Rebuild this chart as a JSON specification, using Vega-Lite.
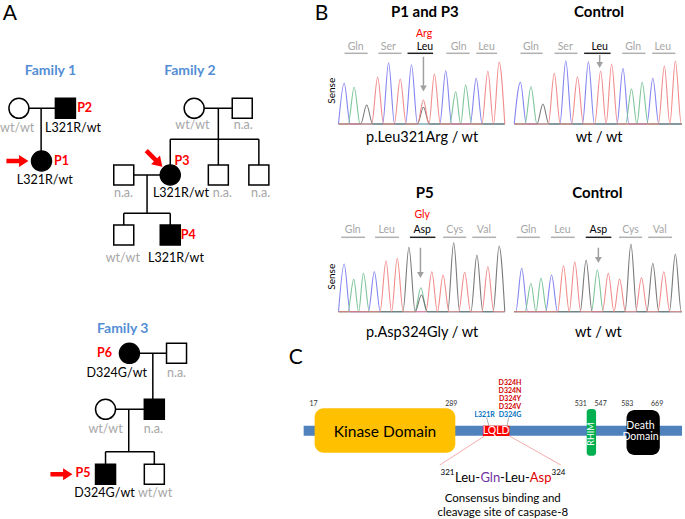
{
"$schema":"https://vega.github.io/schema/vega-lite/v6.json",
"width":685,"height":519,"padding":0,
"autosize":{"type":"fit","contains":"padding"},
"background":"white",
"config":{"font":"Lato","view":{"stroke":null},"text":{"font":"Lato"}},
"datasets":{
"texts":[
{"t":"A","x":10,"y":13.5,"r":"panel"},{"t":"B","x":323,"y":13.5,"r":"panel"},{"t":"C","x":297,"y":357.5,"r":"panel"},
{"t":"Family 1","x":50.7,"y":71,"r":"family"},{"t":"Family 2","x":190.7,"y":71,"r":"family"},{"t":"Family 3","x":123.3,"y":329.3,"r":"family"},
{"t":"P2","x":85,"y":108.3,"r":"pid"},{"t":"P1","x":61.7,"y":161,"r":"pid"},{"t":"P3","x":182.7,"y":161,"r":"pid"},{"t":"P4","x":189,"y":235,"r":"pid"},{"t":"P6","x":105,"y":353.3,"r":"pid"},{"t":"P5","x":83.3,"y":473.3,"r":"pid"},
{"t":"wt/wt","x":17.3,"y":127.7,"r":"geno","g":"wt"},{"t":"L321R/wt","x":73.3,"y":127.7,"r":"geno","g":"carrier"},{"t":"L321R/wt","x":45,"y":180,"r":"geno","g":"carrier"},
{"t":"wt/wt","x":193.3,"y":125,"r":"geno","g":"wt"},{"t":"n.a.","x":244.3,"y":125,"r":"geno","g":"na"},{"t":"n.a.","x":124,"y":192.7,"r":"geno","g":"na"},{"t":"L321R/wt","x":181.7,"y":192.7,"r":"geno","g":"carrier"},{"t":"n.a.","x":223.3,"y":192.7,"r":"geno","g":"na"},{"t":"n.a.","x":261.7,"y":192.7,"r":"geno","g":"na"},{"t":"wt/wt","x":123.3,"y":257.7,"r":"geno","g":"wt"},{"t":"L321R/wt","x":176.7,"y":257.7,"r":"geno","g":"carrier"},
{"t":"D324G/wt","x":117.3,"y":372.7,"r":"geno","g":"carrier"},{"t":"n.a.","x":177.3,"y":372.7,"r":"geno","g":"na"},{"t":"wt/wt","x":106,"y":429,"r":"geno","g":"wt"},{"t":"n.a.","x":154,"y":429,"r":"geno","g":"na"},{"t":"D324G/wt","x":105,"y":493.3,"r":"geno","g":"carrier"},{"t":"wt/wt","x":155.7,"y":493.3,"r":"geno","g":"wt"},
{"t":"P1 and P3","x":426.7,"y":11.7,"r":"title"},{"t":"Control","x":601.7,"y":11.7,"r":"title"},{"t":"P5","x":426.7,"y":193.3,"r":"title"},{"t":"Control","x":600,"y":193.3,"r":"title"},
{"t":"Gln","x":357.3,"y":46.7,"r":"aa","g":"ref"},{"t":"Ser","x":390,"y":46.7,"r":"aa","g":"ref"},{"t":"Leu","x":426.7,"y":46.7,"r":"aa","g":"target"},{"t":"Gln","x":460.7,"y":46.7,"r":"aa","g":"ref"},{"t":"Leu","x":488.7,"y":46.7,"r":"aa","g":"ref"},{"t":"Arg","x":426,"y":34.3,"r":"aa","g":"variant"},
{"t":"Gln","x":533.3,"y":46.7,"r":"aa","g":"ref"},{"t":"Ser","x":567.7,"y":46.7,"r":"aa","g":"ref"},{"t":"Leu","x":602.3,"y":46.7,"r":"aa","g":"target"},{"t":"Gln","x":636,"y":46.7,"r":"aa","g":"ref"},{"t":"Leu","x":665.7,"y":46.7,"r":"aa","g":"ref"},
{"t":"Gln","x":354.3,"y":230,"r":"aa","g":"ref"},{"t":"Leu","x":388.3,"y":230,"r":"aa","g":"ref"},{"t":"Asp","x":424,"y":230,"r":"aa","g":"target"},{"t":"Cys","x":456.7,"y":230,"r":"aa","g":"ref"},{"t":"Val","x":486,"y":230,"r":"aa","g":"ref"},{"t":"Gly","x":424,"y":215,"r":"aa","g":"variant"},
{"t":"Gln","x":530.7,"y":230,"r":"aa","g":"ref"},{"t":"Leu","x":565,"y":230,"r":"aa","g":"ref"},{"t":"Asp","x":601,"y":230,"r":"aa","g":"target"},{"t":"Cys","x":633.3,"y":230,"r":"aa","g":"ref"},{"t":"Val","x":662.7,"y":230,"r":"aa","g":"ref"},
{"t":"Sense","x":333.3,"y":90.7,"r":"sense"},{"t":"Sense","x":333.3,"y":276.7,"r":"sense"},
{"t":"p.Leu321Arg / wt","x":424,"y":137.7,"r":"caption"},{"t":"wt / wt","x":601.7,"y":137.7,"r":"caption"},{"t":"p.Asp324Gly / wt","x":424,"y":333,"r":"caption"},{"t":"wt / wt","x":601,"y":333,"r":"caption"},
{"t":"Kinase Domain","x":386.7,"y":431.7,"r":"kinase"},
{"t":"17","x":315,"y":404,"r":"pos"},{"t":"289","x":453.3,"y":404,"r":"pos"},{"t":"531","x":583.3,"y":404,"r":"pos"},{"t":"547","x":603.3,"y":404,"r":"pos"},{"t":"583","x":630,"y":404,"r":"pos"},{"t":"669","x":660,"y":404,"r":"pos"},
{"t":"L321R","x":486.7,"y":415,"r":"mut","g":"patient"},{"t":"D324G","x":512.3,"y":415,"r":"mut","g":"patient"},{"t":"D324V","x":512.3,"y":407.3,"r":"mut","g":"reported"},{"t":"D324Y","x":512.3,"y":399,"r":"mut","g":"reported"},{"t":"D324N","x":512.3,"y":390.7,"r":"mut","g":"reported"},{"t":"D324H","x":512.3,"y":382.7,"r":"mut","g":"reported"},
{"t":"LQLD","x":498.3,"y":431,"r":"motif"},
{"t":"Death","x":643.3,"y":425.7,"r":"dd"},{"t":"Domain","x":643.3,"y":437.3,"r":"dd"},
{"t":"RHIM","x":594,"y":434,"r":"rhim"},
{"t":"Consensus binding and","x":505,"y":499.3,"r":"note"},{"t":"cleavage site of caspase-8","x":505,"y":512.7,"r":"note"},
{"t":"321","x":442.5,"y":475,"r":"sup"},{"t":"324","x":554,"y":475,"r":"sup"},
{"t":"Leu-","x":457,"y":481.5,"r":"seq","g":"plain"},{"t":"Gln","x":482.5,"y":481.5,"r":"seq","g":"gln"},{"t":"-Leu-","x":502.1,"y":481.5,"r":"seq","g":"plain"},{"t":"Asp","x":532.1,"y":481.5,"r":"seq","g":"asp"}
],
"rects":[
{"part":"backbone","x":305,"x2":685,"y":425.7,"y2":435.7},
{"part":"kinase","x":316,"x2":457.3,"y":408.3,"y2":452.7},
{"part":"death","x":629.3,"x2":662.7,"y":410,"y2":455},
{"part":"rhim","x":589.3,"x2":598.7,"y":409,"y2":455.7},
{"part":"lqld","x":485,"x2":511.7,"y":425.7,"y2":436}
],
"lines":[
{"k":"ped","x":19,"y":108.3,"x2":65.7,"y2":108.3},{"k":"ped","x":41.3,"y":108.3,"x2":41.3,"y2":161},
{"k":"ped","x":195,"y":108.3,"x2":243.3,"y2":108.3},{"k":"ped","x":219.3,"y":108.3,"x2":219.3,"y2":139.3},{"k":"ped","x":171,"y":139.3,"x2":260,"y2":139.3},{"k":"ped","x":171,"y":139.3,"x2":171,"y2":175},{"k":"ped","x":219.3,"y":139.3,"x2":219.3,"y2":175},{"k":"ped","x":260,"y":139.3,"x2":260,"y2":175},{"k":"ped","x":124.3,"y":175,"x2":171,"y2":175},{"k":"ped","x":147.7,"y":175,"x2":147.7,"y2":213.3},{"k":"ped","x":124.3,"y":213.3,"x2":171,"y2":213.3},{"k":"ped","x":124.3,"y":213.3,"x2":124.3,"y2":235},{"k":"ped","x":171,"y":213.3,"x2":171,"y2":235},
{"k":"ped","x":130,"y":353.3,"x2":177.3,"y2":353.3},{"k":"ped","x":153.5,"y":353.3,"x2":153.5,"y2":409.3},{"k":"ped","x":106,"y":409.3,"x2":155,"y2":409.3},{"k":"ped","x":129.3,"y":409.3,"x2":129.3,"y2":451.7},{"k":"ped","x":106,"y":451.7,"x2":155,"y2":451.7},{"k":"ped","x":106,"y":451.7,"x2":106,"y2":474.3},{"k":"ped","x":155,"y":451.7,"x2":155,"y2":474.3},
{"k":"ref","x":346,"x2":369.3,"y":53.3,"y2":53.3},{"k":"ref","x":380,"x2":403.3,"y":53.3,"y2":53.3},{"k":"tgt","x":409.3,"x2":435,"y":53.3,"y2":53.3},{"k":"ref","x":448.3,"x2":471.7,"y":53.3,"y2":53.3},{"k":"ref","x":478.3,"x2":499.3,"y":53.3,"y2":53.3},
{"k":"ref","x":522.7,"x2":545,"y":53.3,"y2":53.3},{"k":"ref","x":557,"x2":580,"y":53.3,"y2":53.3},{"k":"tgt","x":586.7,"x2":613.3,"y":53.3,"y2":53.3},{"k":"ref","x":625,"x2":648.3,"y":53.3,"y2":53.3},{"k":"ref","x":655,"x2":678.3,"y":53.3,"y2":53.3},
{"k":"ref","x":342.7,"x2":366.7,"y":237.3,"y2":237.3},{"k":"ref","x":376.7,"x2":400.7,"y":237.3,"y2":237.3},{"k":"tgt","x":411.7,"x2":437.3,"y":237.3,"y2":237.3},{"k":"ref","x":445,"x2":468.3,"y":237.3,"y2":237.3},{"k":"ref","x":474.3,"x2":498.3,"y":237.3,"y2":237.3},
{"k":"ref","x":519,"x2":542.3,"y":237.3,"y2":237.3},{"k":"ref","x":553.3,"x2":577.3,"y":237.3,"y2":237.3},{"k":"tgt","x":588.3,"x2":614,"y":237.3,"y2":237.3},{"k":"ref","x":621.7,"x2":645,"y":237.3,"y2":237.3},{"k":"ref","x":651,"x2":675,"y":237.3,"y2":237.3},
{"k":"zoom","x":486.7,"y":436,"x2":441.7,"y2":465},{"k":"zoom","x":511.7,"y":436,"x2":563.3,"y2":465},
{"k":"conn","x":488.7,"y":417.3,"x2":491,"y2":425.7},{"k":"conn","x":511,"y":417.3,"x2":509.3,"y2":425.7}
],
"pointers":[
{"x":425.3,"y":56.7,"y2":88.5},{"x":602.3,"y":55,"y2":65},{"x":422.3,"y":247.7,"y2":275},{"x":601,"y":247.7,"y2":260}
],
"nodes":[
{"x":19,"y":108.3,"sex":"F","aff":"no"},{"x":65.7,"y":108.3,"sex":"M","aff":"yes"},{"x":41.7,"y":161,"sex":"F","aff":"yes"},
{"x":195,"y":108.3,"sex":"F","aff":"no"},{"x":243.3,"y":108.3,"sex":"M","aff":"no"},{"x":171,"y":175,"sex":"F","aff":"yes"},{"x":219.3,"y":175,"sex":"M","aff":"no"},{"x":260,"y":175,"sex":"M","aff":"no"},{"x":124.3,"y":175,"sex":"M","aff":"no"},{"x":124.3,"y":235,"sex":"M","aff":"no"},{"x":171,"y":235,"sex":"M","aff":"yes"},
{"x":130,"y":353.3,"sex":"F","aff":"yes"},{"x":177.3,"y":353.3,"sex":"M","aff":"no"},{"x":106,"y":409.3,"sex":"F","aff":"no"},{"x":155,"y":409.3,"sex":"M","aff":"yes"},{"x":106,"y":474.3,"sex":"M","aff":"yes"},{"x":155,"y":474.3,"sex":"M","aff":"no"}
],
"probands":[
{"x":17.5,"y":161,"dir":"side"},{"x":61.7,"y":474.3,"dir":"side"},{"x":155,"y":158.7,"dir":"diag"}
],
"traces":[
{"p":"TL","b":"C","x":340,"y":124},{"p":"TL","b":"C","x":345.7,"y":83.3},{"p":"TL","b":"C","x":351.7,"y":124},{"p":"TL","b":"C","x":384.3,"y":124},{"p":"TL","b":"C","x":390.3,"y":62.7},{"p":"TL","b":"C","x":396.3,"y":124},{"p":"TL","b":"C","x":407.3,"y":124},{"p":"TL","b":"C","x":413.3,"y":64.7},{"p":"TL","b":"C","x":419.3,"y":124},{"p":"TL","b":"C","x":441.7,"y":124},{"p":"TL","b":"C","x":447.7,"y":70.7},{"p":"TL","b":"C","x":453.7,"y":124},{"p":"TL","b":"C","x":472.3,"y":124},{"p":"TL","b":"C","x":478.3,"y":78.3},{"p":"TL","b":"C","x":484.3,"y":124},{"p":"TL","b":"C","x":507,"y":124},
{"p":"TL","b":"A","x":340,"y":124},{"p":"TL","b":"A","x":349.7,"y":124},{"p":"TL","b":"A","x":355.7,"y":87.3},{"p":"TL","b":"A","x":361.7,"y":124},{"p":"TL","b":"A","x":451.7,"y":124},{"p":"TL","b":"A","x":457.7,"y":91.7},{"p":"TL","b":"A","x":462.7,"y":124},{"p":"TL","b":"A","x":467.7,"y":85},{"p":"TL","b":"A","x":473.7,"y":124},{"p":"TL","b":"A","x":507,"y":124},
{"p":"TL","b":"G","x":340,"y":124},{"p":"TL","b":"G","x":362.3,"y":124},{"p":"TL","b":"G","x":368.3,"y":105},{"p":"TL","b":"G","x":374.3,"y":124},{"p":"TL","b":"G","x":419.3,"y":124},{"p":"TL","b":"G","x":425.3,"y":107.3},{"p":"TL","b":"G","x":431.3,"y":124},{"p":"TL","b":"G","x":507,"y":124},
{"p":"TL","b":"T","x":340,"y":124},{"p":"TL","b":"T","x":373.3,"y":124},{"p":"TL","b":"T","x":379.3,"y":77.3},{"p":"TL","b":"T","x":385.3,"y":124},{"p":"TL","b":"T","x":396,"y":124},{"p":"TL","b":"T","x":402,"y":79},{"p":"TL","b":"T","x":408,"y":124},{"p":"TL","b":"T","x":419.3,"y":124},{"p":"TL","b":"T","x":425.3,"y":100},{"p":"TL","b":"T","x":430.8,"y":124},{"p":"TL","b":"T","x":436.3,"y":74},{"p":"TL","b":"T","x":442.3,"y":124},{"p":"TL","b":"T","x":484,"y":124},{"p":"TL","b":"T","x":490,"y":71},{"p":"TL","b":"T","x":495.7,"y":124},{"p":"TL","b":"T","x":501.3,"y":62},{"p":"TL","b":"T","x":507,"y":124},
{"p":"TR","b":"C","x":516.5,"y":124},{"p":"TR","b":"C","x":522.7,"y":82.3},{"p":"TR","b":"C","x":528.7,"y":124},{"p":"TR","b":"C","x":562.3,"y":124},{"p":"TR","b":"C","x":568.3,"y":60.7},{"p":"TR","b":"C","x":574.3,"y":124},{"p":"TR","b":"C","x":585,"y":124},{"p":"TR","b":"C","x":591,"y":61.7},{"p":"TR","b":"C","x":597,"y":124},{"p":"TR","b":"C","x":619.7,"y":124},{"p":"TR","b":"C","x":625.7,"y":68.3},{"p":"TR","b":"C","x":631.7,"y":124},{"p":"TR","b":"C","x":649.7,"y":124},{"p":"TR","b":"C","x":655.7,"y":78.3},{"p":"TR","b":"C","x":661.7,"y":124},{"p":"TR","b":"C","x":685,"y":124},
{"p":"TR","b":"A","x":516.5,"y":124},{"p":"TR","b":"A","x":527.3,"y":124},{"p":"TR","b":"A","x":533.3,"y":86.7},{"p":"TR","b":"A","x":539.3,"y":124},{"p":"TR","b":"A","x":628.3,"y":124},{"p":"TR","b":"A","x":634.3,"y":89},{"p":"TR","b":"A","x":639.7,"y":124},{"p":"TR","b":"A","x":645,"y":82.3},{"p":"TR","b":"A","x":651,"y":124},{"p":"TR","b":"A","x":685,"y":124},
{"p":"TR","b":"G","x":516.5,"y":124},{"p":"TR","b":"G","x":539.3,"y":124},{"p":"TR","b":"G","x":545.3,"y":104},{"p":"TR","b":"G","x":551.3,"y":124},{"p":"TR","b":"G","x":685,"y":124},
{"p":"TR","b":"T","x":516.5,"y":124},{"p":"TR","b":"T","x":550.7,"y":124},{"p":"TR","b":"T","x":556.7,"y":73.3},{"p":"TR","b":"T","x":562.7,"y":124},{"p":"TR","b":"T","x":574,"y":124},{"p":"TR","b":"T","x":580,"y":76.7},{"p":"TR","b":"T","x":586,"y":124},{"p":"TR","b":"T","x":597.3,"y":124},{"p":"TR","b":"T","x":603.3,"y":71},{"p":"TR","b":"T","x":608.8,"y":124},{"p":"TR","b":"T","x":614.3,"y":64},{"p":"TR","b":"T","x":620.3,"y":124},{"p":"TR","b":"T","x":661.3,"y":124},{"p":"TR","b":"T","x":667.3,"y":66},{"p":"TR","b":"T","x":672.8,"y":124},{"p":"TR","b":"T","x":678.3,"y":61},{"p":"TR","b":"T","x":684.3,"y":124},{"p":"TR","b":"T","x":685,"y":124},
{"p":"BL","b":"C","x":340,"y":311.7},{"p":"BL","b":"C","x":345.7,"y":264},{"p":"BL","b":"C","x":351.7,"y":311.7},{"p":"BL","b":"C","x":370,"y":311.7},{"p":"BL","b":"C","x":376,"y":271.7},{"p":"BL","b":"C","x":382,"y":311.7},{"p":"BL","b":"C","x":507,"y":311.7},
{"p":"BL","b":"A","x":340,"y":311.7},{"p":"BL","b":"A","x":349.3,"y":311.7},{"p":"BL","b":"A","x":355.3,"y":279.3},{"p":"BL","b":"A","x":360.2,"y":311.7},{"p":"BL","b":"A","x":365,"y":273.3},{"p":"BL","b":"A","x":371,"y":311.7},{"p":"BL","b":"A","x":416.7,"y":311.7},{"p":"BL","b":"A","x":422.7,"y":287.7},{"p":"BL","b":"A","x":428.7,"y":311.7},{"p":"BL","b":"A","x":507,"y":311.7},
{"p":"BL","b":"G","x":340,"y":311.7},{"p":"BL","b":"G","x":404.7,"y":311.7},{"p":"BL","b":"G","x":410.7,"y":247.3},{"p":"BL","b":"G","x":417,"y":311.7},{"p":"BL","b":"G","x":423.3,"y":295},{"p":"BL","b":"G","x":429.3,"y":311.7},{"p":"BL","b":"G","x":449.7,"y":311.7},{"p":"BL","b":"G","x":455.7,"y":242.7},{"p":"BL","b":"G","x":461.7,"y":311.7},{"p":"BL","b":"G","x":473,"y":311.7},{"p":"BL","b":"G","x":479,"y":255},{"p":"BL","b":"G","x":485,"y":311.7},{"p":"BL","b":"G","x":495.3,"y":311.7},{"p":"BL","b":"G","x":501.3,"y":246},{"p":"BL","b":"G","x":507,"y":311.7},
{"p":"BL","b":"T","x":340,"y":311.7},{"p":"BL","b":"T","x":381.7,"y":311.7},{"p":"BL","b":"T","x":387.7,"y":260.7},{"p":"BL","b":"T","x":393.3,"y":311.7},{"p":"BL","b":"T","x":399,"y":258.3},{"p":"BL","b":"T","x":405,"y":311.7},{"p":"BL","b":"T","x":427.7,"y":311.7},{"p":"BL","b":"T","x":433.7,"y":271.7},{"p":"BL","b":"T","x":439.3,"y":311.7},{"p":"BL","b":"T","x":445,"y":275},{"p":"BL","b":"T","x":451,"y":311.7},{"p":"BL","b":"T","x":460.7,"y":311.7},{"p":"BL","b":"T","x":466.7,"y":272.3},{"p":"BL","b":"T","x":472.7,"y":311.7},{"p":"BL","b":"T","x":484,"y":311.7},{"p":"BL","b":"T","x":490,"y":266.7},{"p":"BL","b":"T","x":496,"y":311.7},{"p":"BL","b":"T","x":507,"y":311.7},
{"p":"BR","b":"C","x":516.5,"y":311.7},{"p":"BR","b":"C","x":518,"y":311.7},{"p":"BR","b":"C","x":524,"y":268.3},{"p":"BR","b":"C","x":530,"y":311.7},{"p":"BR","b":"C","x":548,"y":311.7},{"p":"BR","b":"C","x":554,"y":275},{"p":"BR","b":"C","x":560,"y":311.7},{"p":"BR","b":"C","x":685,"y":311.7},
{"p":"BR","b":"A","x":516.5,"y":311.7},{"p":"BR","b":"A","x":527.3,"y":311.7},{"p":"BR","b":"A","x":533.3,"y":283.3},{"p":"BR","b":"A","x":538.3,"y":311.7},{"p":"BR","b":"A","x":543.3,"y":278.3},{"p":"BR","b":"A","x":549.3,"y":311.7},{"p":"BR","b":"A","x":594,"y":311.7},{"p":"BR","b":"A","x":600,"y":270},{"p":"BR","b":"A","x":606,"y":311.7},{"p":"BR","b":"A","x":685,"y":311.7},
{"p":"BR","b":"G","x":516.5,"y":311.7},{"p":"BR","b":"G","x":582.7,"y":311.7},{"p":"BR","b":"G","x":588.7,"y":260},{"p":"BR","b":"G","x":594.7,"y":311.7},{"p":"BR","b":"G","x":627.7,"y":311.7},{"p":"BR","b":"G","x":633.7,"y":244},{"p":"BR","b":"G","x":639.7,"y":311.7},{"p":"BR","b":"G","x":649.7,"y":311.7},{"p":"BR","b":"G","x":655.7,"y":263.3},{"p":"BR","b":"G","x":661.7,"y":311.7},{"p":"BR","b":"G","x":672.3,"y":311.7},{"p":"BR","b":"G","x":678.3,"y":254},{"p":"BR","b":"G","x":684.3,"y":311.7},{"p":"BR","b":"G","x":685,"y":311.7},
{"p":"BR","b":"T","x":516.5,"y":311.7},{"p":"BR","b":"T","x":560,"y":311.7},{"p":"BR","b":"T","x":566,"y":265.7},{"p":"BR","b":"T","x":571.7,"y":311.7},{"p":"BR","b":"T","x":577.3,"y":261.7},{"p":"BR","b":"T","x":583.3,"y":311.7},{"p":"BR","b":"T","x":605,"y":311.7},{"p":"BR","b":"T","x":611,"y":273.3},{"p":"BR","b":"T","x":616.7,"y":311.7},{"p":"BR","b":"T","x":622.3,"y":279},{"p":"BR","b":"T","x":628.3,"y":311.7},{"p":"BR","b":"T","x":638.3,"y":311.7},{"p":"BR","b":"T","x":644.3,"y":277.7},{"p":"BR","b":"T","x":650.3,"y":311.7},{"p":"BR","b":"T","x":660.7,"y":311.7},{"p":"BR","b":"T","x":666.7,"y":271.7},{"p":"BR","b":"T","x":672.7,"y":311.7},{"p":"BR","b":"T","x":685,"y":311.7}
]
},
"data":{"name":"texts"},
"encoding":{
"x":{"field":"x","type":"quantitative","scale":{"domain":[0,685],"nice":false,"zero":false},"axis":null},
"y":{"field":"y","type":"quantitative","scale":{"domain":[0,519],"reverse":true,"nice":false,"zero":false},"axis":null}
},
"layer":[
{"data":{"name":"rects"},"transform":[{"filter":"datum.part=='backbone'"}],"mark":{"type":"rect","color":"#4f81bd"},"encoding":{"x2":{"field":"x2"},"y2":{"field":"y2"}}},
{"data":{"name":"rects"},"transform":[{"filter":"datum.part=='kinase'"}],"mark":{"type":"rect","color":"#ffc000","cornerRadius":9},"encoding":{"x2":{"field":"x2"},"y2":{"field":"y2"}}},
{"data":{"name":"rects"},"transform":[{"filter":"datum.part=='death'"}],"mark":{"type":"rect","color":"#000000","cornerRadius":8},"encoding":{"x2":{"field":"x2"},"y2":{"field":"y2"}}},
{"data":{"name":"rects"},"transform":[{"filter":"datum.part=='rhim'"}],"mark":{"type":"rect","color":"#00b050","cornerRadius":3},"encoding":{"x2":{"field":"x2"},"y2":{"field":"y2"}}},
{"data":{"name":"rects"},"transform":[{"filter":"datum.part=='lqld'"}],"mark":{"type":"rect","color":"#ff0000"},"encoding":{"x2":{"field":"x2"},"y2":{"field":"y2"}}},
{"data":{"name":"lines"},"transform":[{"filter":"datum.k=='zoom'"}],"mark":{"type":"rule","color":"#f4a3a3","strokeWidth":0.9},"encoding":{"x2":{"field":"x2"},"y2":{"field":"y2"}}},
{"data":{"name":"lines"},"transform":[{"filter":"datum.k=='conn'"}],"mark":{"type":"rule","color":"#9a9a9a","strokeWidth":0.8},"encoding":{"x2":{"field":"x2"},"y2":{"field":"y2"}}},
{"data":{"name":"lines"},"transform":[{"filter":"datum.k=='ped'"}],"mark":{"type":"rule","color":"#000000","strokeWidth":1.5},"encoding":{"x2":{"field":"x2"},"y2":{"field":"y2"}}},
{"data":{"name":"lines"},"transform":[{"filter":"datum.k=='ref'"}],"mark":{"type":"rule","color":"#b0b0b0","strokeWidth":1.5},"encoding":{"x2":{"field":"x2"},"y2":{"field":"y2"}}},
{"data":{"name":"lines"},"transform":[{"filter":"datum.k=='tgt'"}],"mark":{"type":"rule","color":"#222222","strokeWidth":1.5},"encoding":{"x2":{"field":"x2"},"y2":{"field":"y2"}}},
{"data":{"name":"pointers"},"mark":{"type":"rule","color":"#a0a0a0","strokeWidth":1.5},"encoding":{"y2":{"field":"y2"}}},
{"data":{"name":"pointers"},"mark":{"type":"point","shape":"triangle-down","filled":true,"color":"#a0a0a0","size":45,"opacity":1},"encoding":{"y":{"field":"y2","type":"quantitative","scale":{"domain":[0,519],"reverse":true,"nice":false,"zero":false},"axis":null}}},
{"data":{"name":"traces"},"mark":{"type":"line","interpolate":"monotone","strokeWidth":1.1,"opacity":0.9},"encoding":{"detail":[{"field":"p"},{"field":"b"}],"color":{"field":"b","type":"nominal","scale":{"domain":["A","C","G","T"],"range":["#6fbf8f","#7878f0","#6a6a6a","#f08080"]},"legend":null}}},
{"data":{"name":"nodes"},"mark":{"type":"point","stroke":"#000000","strokeWidth":1.5,"size":400,"opacity":1,"fillOpacity":1},"encoding":{"shape":{"field":"sex","type":"nominal","scale":{"domain":["F","M"],"range":["circle","square"]},"legend":null},"fill":{"field":"aff","type":"nominal","scale":{"domain":["yes","no"],"range":["#000000","#ffffff"]},"legend":null}}},
{"data":{"name":"probands"},"transform":[{"filter":"datum.dir=='side'"}],"mark":{"type":"point","shape":"M-1,-0.2L0.15,-0.2L0.15,-0.55L1,0L0.15,0.55L0.15,0.2L-1,0.2Z","filled":true,"color":"#ff0000","size":484,"opacity":1}},
{"data":{"name":"probands"},"transform":[{"filter":"datum.dir=='diag'"}],"mark":{"type":"point","shape":"M-1,-0.2L0.15,-0.2L0.15,-0.55L1,0L0.15,0.55L0.15,0.2L-1,0.2Z","filled":true,"color":"#ff0000","size":520,"opacity":1,"angle":45}},
{"transform":[{"filter":"datum.r=='panel'"}],"mark":{"type":"text","fontSize":21,"color":"#000000","baseline":"middle"},"encoding":{"text":{"field":"t"}}},
{"transform":[{"filter":"datum.r=='family'"}],"mark":{"type":"text","fontSize":14,"fontWeight":"bold","color":"#558ed5","baseline":"middle"},"encoding":{"text":{"field":"t"}}},
{"transform":[{"filter":"datum.r=='pid'"}],"mark":{"type":"text","fontSize":12.5,"fontWeight":"bold","color":"#ff0000","baseline":"middle"},"encoding":{"text":{"field":"t"}}},
{"transform":[{"filter":"datum.r=='geno' && datum.g=='carrier'"}],"mark":{"type":"text","fontSize":12.5,"color":"#000000","baseline":"middle"},"encoding":{"text":{"field":"t"}}},
{"transform":[{"filter":"datum.r=='geno' && datum.g!='carrier'"}],"mark":{"type":"text","fontSize":12.5,"color":"#a6a6a6","baseline":"middle"},"encoding":{"text":{"field":"t"}}},
{"transform":[{"filter":"datum.r=='title'"}],"mark":{"type":"text","fontSize":15,"fontWeight":"bold","color":"#000000","baseline":"middle"},"encoding":{"text":{"field":"t"}}},
{"transform":[{"filter":"datum.r=='aa' && datum.g=='ref'"}],"mark":{"type":"text","fontSize":10.5,"color":"#a6a6a6","baseline":"middle"},"encoding":{"text":{"field":"t"}}},
{"transform":[{"filter":"datum.r=='aa' && datum.g=='target'"}],"mark":{"type":"text","fontSize":10.5,"color":"#000000","baseline":"middle"},"encoding":{"text":{"field":"t"}}},
{"transform":[{"filter":"datum.r=='aa' && datum.g=='variant'"}],"mark":{"type":"text","fontSize":10.5,"color":"#ff0000","baseline":"middle"},"encoding":{"text":{"field":"t"}}},
{"transform":[{"filter":"datum.r=='sense'"}],"mark":{"type":"text","fontSize":10,"color":"#000000","baseline":"middle","angle":270},"encoding":{"text":{"field":"t"}}},
{"transform":[{"filter":"datum.r=='caption'"}],"mark":{"type":"text","fontSize":14.5,"color":"#000000","baseline":"middle"},"encoding":{"text":{"field":"t"}}},
{"transform":[{"filter":"datum.r=='kinase'"}],"mark":{"type":"text","fontSize":15.5,"color":"#000000","baseline":"middle"},"encoding":{"text":{"field":"t"}}},
{"transform":[{"filter":"datum.r=='pos'"}],"mark":{"type":"text","fontSize":7,"color":"#333333","baseline":"middle"},"encoding":{"text":{"field":"t"}}},
{"transform":[{"filter":"datum.r=='mut' && datum.g=='patient'"}],"mark":{"type":"text","fontSize":7,"fontWeight":"bold","color":"#0070c0","baseline":"middle"},"encoding":{"text":{"field":"t"}}},
{"transform":[{"filter":"datum.r=='mut' && datum.g=='reported'"}],"mark":{"type":"text","fontSize":7,"fontWeight":"bold","color":"#d00000","baseline":"middle"},"encoding":{"text":{"field":"t"}}},
{"transform":[{"filter":"datum.r=='motif'"}],"mark":{"type":"text","fontSize":10.5,"color":"#ffffff","baseline":"middle"},"encoding":{"text":{"field":"t"}}},
{"transform":[{"filter":"datum.r=='dd'"}],"mark":{"type":"text","fontSize":10.5,"color":"#ffffff","baseline":"middle"},"encoding":{"text":{"field":"t"}}},
{"transform":[{"filter":"datum.r=='rhim'"}],"mark":{"type":"text","fontSize":9,"color":"#ffffff","baseline":"middle","angle":270},"encoding":{"text":{"field":"t"}}},
{"transform":[{"filter":"datum.r=='note'"}],"mark":{"type":"text","fontSize":11.5,"color":"#000000","baseline":"middle"},"encoding":{"text":{"field":"t"}}},
{"transform":[{"filter":"datum.r=='sup'"}],"mark":{"type":"text","fontSize":8,"color":"#000000","align":"left","baseline":"alphabetic"},"encoding":{"text":{"field":"t"}}},
{"transform":[{"filter":"datum.r=='seq' && datum.g=='plain'"}],"mark":{"type":"text","fontSize":13,"color":"#000000","align":"left","baseline":"alphabetic"},"encoding":{"text":{"field":"t"}}},
{"transform":[{"filter":"datum.r=='seq' && datum.g=='gln'"}],"mark":{"type":"text","fontSize":13,"color":"#7030a0","align":"left","baseline":"alphabetic"},"encoding":{"text":{"field":"t"}}},
{"transform":[{"filter":"datum.r=='seq' && datum.g=='asp'"}],"mark":{"type":"text","fontSize":13,"color":"#e00000","align":"left","baseline":"alphabetic"},"encoding":{"text":{"field":"t"}}}
]
}
